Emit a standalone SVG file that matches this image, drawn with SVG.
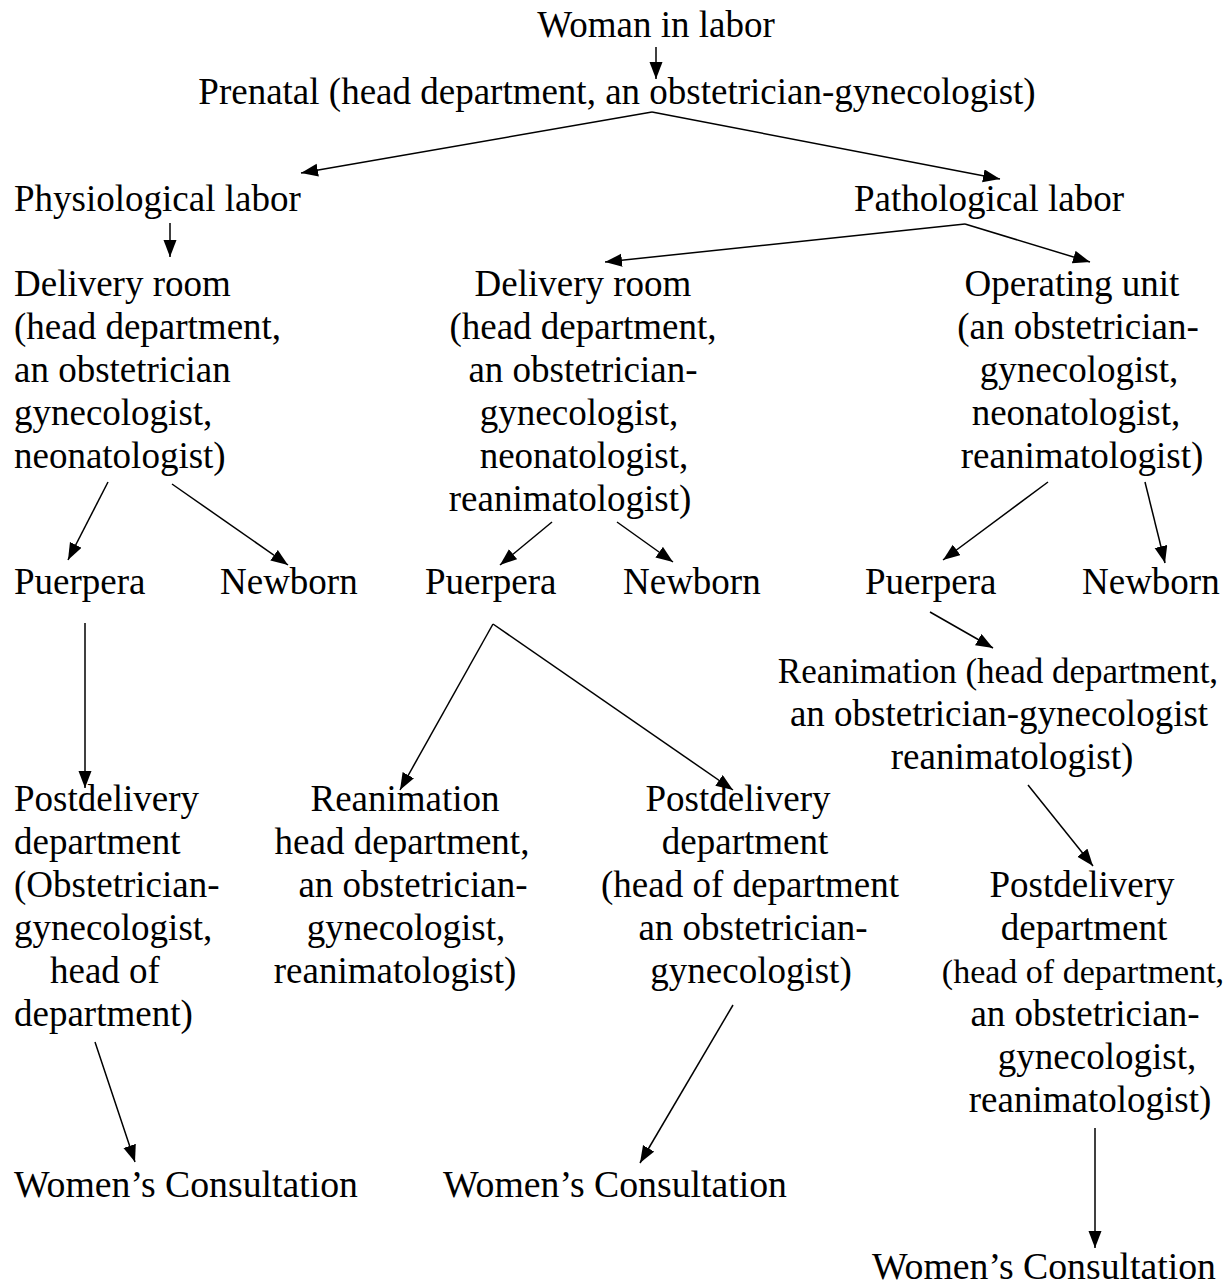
<svg xmlns="http://www.w3.org/2000/svg" width="1231" height="1286" viewBox="0 0 1231 1286">
<style>
text{font-family:"Liberation Serif","Times New Roman",serif;font-size:37px;fill:#000}
.m{text-anchor:middle}
.c line{stroke:#000;stroke-width:1.5;marker-end:url(#ah)}
</style>
<defs>
<marker id="ah" markerUnits="userSpaceOnUse" markerWidth="18" markerHeight="14" refX="17" refY="6.5" orient="auto" viewBox="0 0 18 14"><path d="M0,0 L17,6.5 L0,13 z" fill="#000"/></marker>
</defs>
<rect width="1231" height="1286" fill="#fff"/>
<g id="n-woman"><text class="m" x="656" y="37">Woman in labor</text></g>
<g id="n-prenatal"><text class="m" x="617" y="104">Prenatal (head department, an obstetrician-gynecologist)</text></g>
<g id="n-physio"><text x="14" y="211">Physiological labor</text></g>
<g id="n-patho"><text class="m" x="989" y="211">Pathological labor</text></g>
<g id="n-deliv1"><text x="14" y="296">Delivery room</text><text x="14" y="339">(head department,</text><text x="14" y="382">an obstetrician</text><text x="14" y="425">gynecologist,</text><text x="14" y="468">neonatologist)</text></g>
<g id="n-deliv2"><text class="m" x="583" y="296">Delivery room</text><text class="m" x="583" y="339">(head department,</text><text class="m" x="583" y="382">an obstetrician-</text><text class="m" x="579" y="425">gynecologist,</text><text class="m" x="584" y="468">neonatologist,</text><text class="m" x="570" y="511">reanimatologist)</text></g>
<g id="n-oper"><text class="m" x="1072" y="296">Operating unit</text><text class="m" x="1078" y="339">(an obstetrician-</text><text class="m" x="1079" y="382">gynecologist,</text><text class="m" x="1076" y="425">neonatologist,</text><text class="m" x="1082" y="468">reanimatologist)</text></g>
<g id="n-puer1"><text x="14" y="594">Puerpera</text></g>
<g id="n-new1"><text x="220" y="594">Newborn</text></g>
<g id="n-puer2"><text x="425" y="594">Puerpera</text></g>
<g id="n-new2"><text x="623" y="594">Newborn</text></g>
<g id="n-puer3"><text x="865" y="594">Puerpera</text></g>
<g id="n-new3"><text x="1082" y="594">Newborn</text></g>
<g id="n-reanim3"><text class="m" x="998" y="683" style="font-size:35px">Reanimation (head department,</text><text class="m" x="999" y="726">an obstetrician-gynecologist</text><text class="m" x="1012" y="769">reanimatologist)</text></g>
<g id="n-post1"><text x="14" y="811">Postdelivery</text><text x="14" y="854">department</text><text x="14" y="897">(Obstetrician-</text><text x="14" y="940">gynecologist,</text><text x="50" y="983">head of</text><text x="14" y="1026">department)</text></g>
<g id="n-reanim2"><text class="m" x="405" y="811">Reanimation</text><text class="m" x="402" y="854">head department,</text><text class="m" x="413" y="897">an obstetrician-</text><text class="m" x="406" y="940">gynecologist,</text><text class="m" x="395" y="983">reanimatologist)</text></g>
<g id="n-post2"><text class="m" x="738" y="811">Postdelivery</text><text class="m" x="745" y="854">department</text><text class="m" x="750" y="897">(head of department</text><text class="m" x="753" y="940">an obstetrician-</text><text class="m" x="751" y="983">gynecologist)</text></g>
<g id="n-post3"><text class="m" x="1082" y="897">Postdelivery</text><text class="m" x="1084" y="940">department</text><text class="m" x="1083" y="983" style="font-size:34px">(head of department,</text><text class="m" x="1085" y="1026">an obstetrician-</text><text class="m" x="1097" y="1069">gynecologist,</text><text class="m" x="1090" y="1112">reanimatologist)</text></g>
<g id="n-wc1"><text x="14" y="1197" textLength="344" lengthAdjust="spacingAndGlyphs">Women’s Consultation</text></g>
<g id="n-wc2"><text x="443" y="1197" textLength="344" lengthAdjust="spacingAndGlyphs">Women’s Consultation</text></g>
<g id="n-wc3"><text x="872" y="1279" textLength="344" lengthAdjust="spacingAndGlyphs">Women’s Consultation</text></g>
<g id="connectors" class="c">
<line x1="656" y1="47" x2="656" y2="79"/>
<line x1="652" y1="112" x2="301" y2="173"/>
<line x1="652" y1="112" x2="1000" y2="179"/>
<line x1="170" y1="223" x2="170" y2="257"/>
<line x1="965" y1="224" x2="605" y2="262"/>
<line x1="965" y1="224" x2="1090" y2="262"/>
<line x1="108" y1="482" x2="68" y2="560"/>
<line x1="172" y1="484" x2="288" y2="565"/>
<line x1="552" y1="522" x2="500" y2="565"/>
<line x1="617" y1="522" x2="673" y2="562"/>
<line x1="1048" y1="482" x2="943" y2="560"/>
<line x1="1145" y1="482" x2="1165" y2="563"/>
<line x1="85" y1="623" x2="85" y2="788"/>
<line x1="493" y1="624" x2="400" y2="790"/>
<line x1="493" y1="624" x2="733" y2="790"/>
<line x1="930" y1="612" x2="993" y2="648"/>
<line x1="1028" y1="785" x2="1093" y2="866"/>
<line x1="95" y1="1042" x2="135" y2="1162"/>
<line x1="733" y1="1005" x2="640" y2="1163"/>
<line x1="1095" y1="1128" x2="1095" y2="1248"/>
</g>
</svg>
